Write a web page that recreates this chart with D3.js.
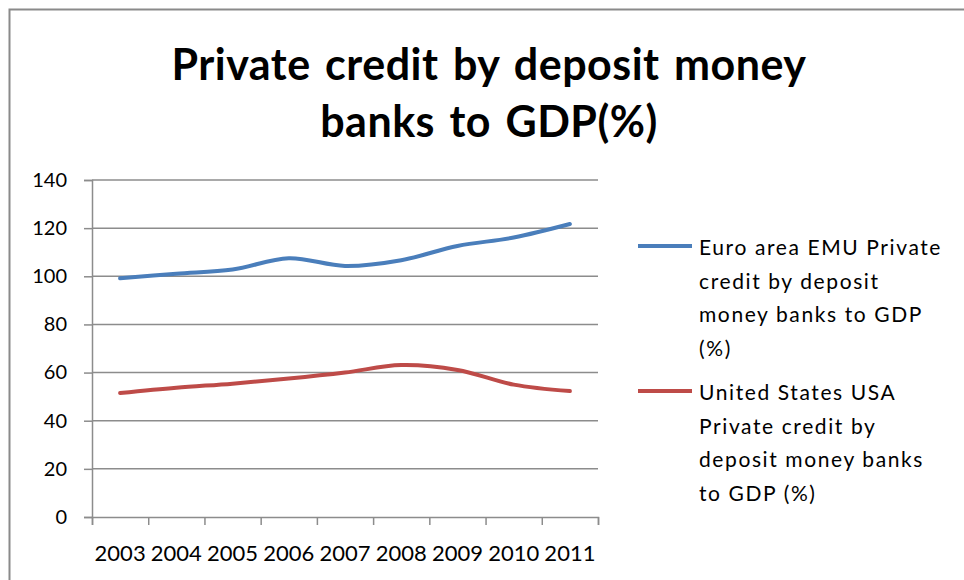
<!DOCTYPE html>
<html>

<head>
    <meta charset="utf-8">
    <style>
        body { margin: 0; background: #fff; }
        text { font-family: Lato, "Open Sans", sans-serif; fill: #000; }
    </style>
</head>

<body>
    <div id="vizDiv"></div>

    <script src="https://d3js.org/d3.v7.min.js"></script>
    <script>
        // data
        const years = ["2003", "2004", "2005", "2006", "2007", "2008", "2009", "2010", "2011"];
        const euroValues = [99.2, 101.1, 102.8, 107.5, 104.3, 106.7, 112.6, 116.1, 121.7];
        const usaValues = [51.5, 53.7, 55.4, 57.5, 60.0, 63.1, 61.1, 55.0, 52.3];
        const yTicks = [0, 20, 40, 60, 80, 100, 120, 140];
        const titleLines = ["Private credit by deposit money", "banks to GDP(%)"];
        const euroLegend = ["Euro area EMU Private", "credit by deposit", "money banks to GDP", "(%)"];
        const usaLegend = ["United States USA", "Private credit by", "deposit money banks", "to GDP (%)"];

        const series = [
            { values: euroValues, color: "#4a7ebb", legend: euroLegend },
            { values: usaValues, color: "#be4b48", legend: usaLegend }
        ];

        const width = 964, height = 580;
        const plotLeft = 92, plotRight = 598, plotTop = 180, plotBottom = 517;

        const svg = d3.select("#vizDiv")
            .append("svg")
            .attr("width", width)
            .attr("height", height);

        // frame (only top and left edges show)
        svg.append("path")
            .attr("d", `M9.5,${height} V9.5 H${width}`)
            .attr("fill", "none")
            .attr("stroke", "#8a8a8a")
            .attr("stroke-width", 2);

        // title
        svg.append("g").selectAll("text")
            .data(titleLines)
            .enter()
            .append("text")
            .attr("x", 489)
            .attr("y", (d, i) => 80 + i * 57)
            .attr("text-anchor", "middle")
            .style("font-weight", "bold")
            .style("font-size", "43px")
            .style("letter-spacing", "0.5px")
            .style("word-spacing", "3.5px")
            .text(d => d);

        // scales
        const y = d3.scaleLinear().domain([0, 140]).range([plotBottom, plotTop]);
        const x = d3.scaleBand().domain(years).range([plotLeft, plotRight]);
        const xEdge = d3.scaleLinear().domain([0, years.length]).range([plotLeft, plotRight]);

        // gridlines
        svg.append("g")
            .selectAll("line")
            .data(yTicks.filter(d => d > 0))
            .enter()
            .append("line")
            .attr("x1", plotLeft)
            .attr("x2", plotRight)
            .attr("y1", d => y(d))
            .attr("y2", d => y(d))
            .attr("stroke", "#8c8c8c")
            .attr("stroke-width", 1.5);

        // y axis
        const yAxis = svg.append("g")
            .attr("transform", `translate(${plotLeft},0)`)
            .call(d3.axisLeft(y).tickValues(yTicks).tickSize(8).tickPadding(17));
        yAxis.selectAll("line, path").attr("stroke", "#8c8c8c").attr("stroke-width", 1.5);
        yAxis.selectAll("text").style("font-size", "20px").style("font-family", "Lato").attr("fill", "#000");

        // x axis ticks sit between the categories
        const xTicks = svg.append("g")
            .attr("transform", `translate(0,${plotBottom})`)
            .call(d3.axisBottom(xEdge).tickValues(d3.range(years.length + 1)).tickSize(8).tickFormat(""));
        xTicks.selectAll("line, path").attr("stroke", "#8c8c8c").attr("stroke-width", 1.5);

        const xLabels = svg.append("g")
            .attr("transform", `translate(0,${plotBottom})`)
            .call(d3.axisBottom(x).tickSize(0).tickPadding(28));
        xLabels.select(".domain").remove();
        xLabels.selectAll("text").style("font-size", "22px").style("font-family", "Lato").attr("fill", "#000");

        // lines
        const line = d3.line()
            .x((d, i) => x(years[i]) + x.bandwidth() / 2)
            .y(d => y(d))
            .curve(d3.curveCatmullRom.alpha(0.5));

        svg.append("g")
            .selectAll("path")
            .data(series)
            .enter()
            .append("path")
            .attr("d", d => line(d.values))
            .attr("fill", "none")
            .attr("stroke", d => d.color)
            .attr("stroke-width", 4)
            .attr("stroke-linecap", "round");

        // legend
        const legend = svg.append("g")
            .selectAll("g")
            .data(series)
            .enter()
            .append("g")
            .attr("transform", (d, i) => `translate(638,${246 + i * 145})`);

        legend.append("line")
            .attr("x1", 0)
            .attr("x2", 54)
            .attr("stroke", d => d.color)
            .attr("stroke-width", 4);

        legend.selectAll("text")
            .data(d => d.legend)
            .enter()
            .append("text")
            .attr("x", 61)
            .attr("y", (d, i) => 9 + i * 33.5)
            .style("font-size", "21px")
            .style("letter-spacing", "1.6px")
            .text(d => d);
    </script>
</body>

</html>
